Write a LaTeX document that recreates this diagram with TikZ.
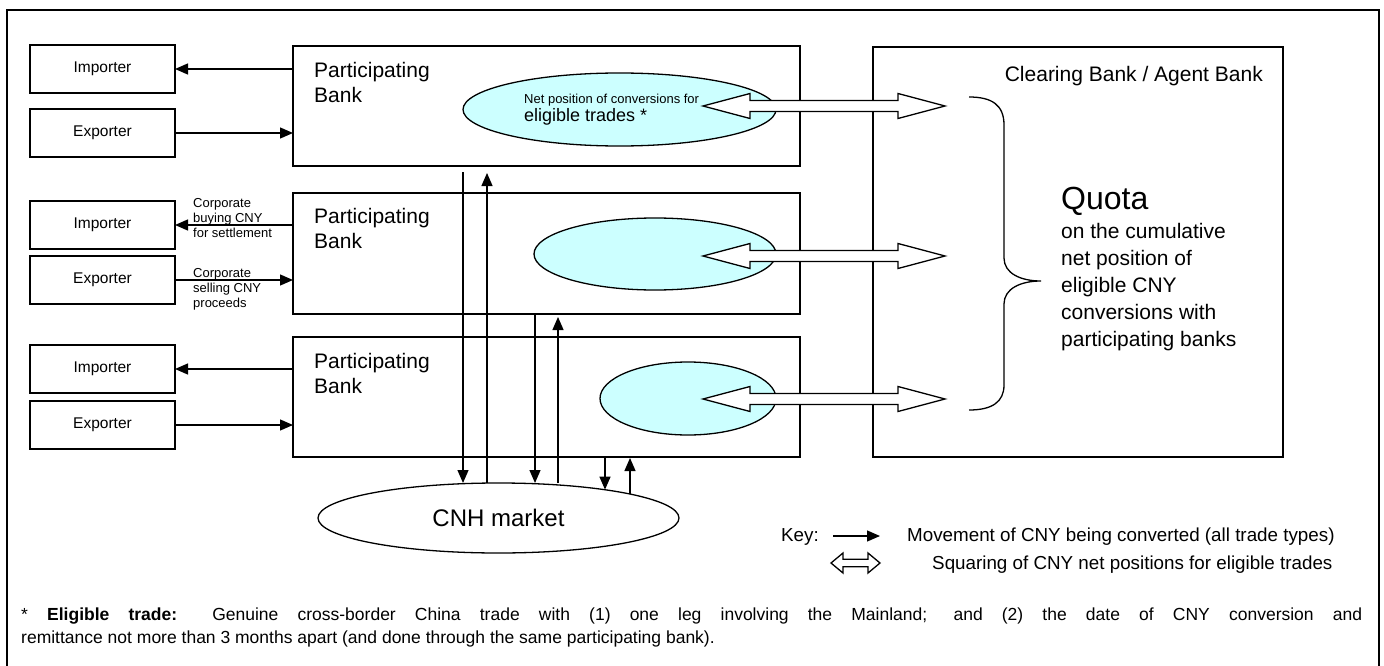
\documentclass[tikz,border=0pt]{standalone}
\usepackage{fontspec}
\setmainfont{Liberation Sans}
\usetikzlibrary{arrows.meta,shapes.geometric,positioning,calc}
\definecolor{netcyan}{RGB}{204,255,255}
% hollow two-headed block arrow: left tip, right tip, head length, head half-width, shaft half-width
\newcommand{\sqarrow}[5]{%
  \draw[sqline] (#1) -- ++(#3,-#4) -- ++(0,{#4-#5}) -- ($(#2)+(-#3,-#5)$) -- ++(0,{#5-#4})
    -- (#2) -- ++(-#3,#4) -- ++(0,{#5-#4}) -- ($(#1)+(#3,#5)$) -- ++(0,{#4-#5}) -- cycle;}

\begin{document}
\begin{tikzpicture}[x=1pt,y=-1pt,
  party/.style={draw, line width=1.3pt, minimum width=145pt, minimum height=48pt, inner sep=0pt, outer sep=0pt, font=\fontsize{15.5}{17}\selectfont},
  bank/.style={draw, line width=1.3pt, minimum width=507pt, minimum height=120pt, inner sep=0pt, outer sep=0pt},
  banklabel/.style={align=left, inner sep=0pt, font=\fontsize{21}{25}\selectfont},
  netpos/.style={ellipse, draw, line width=1.3pt, fill=netcyan, inner sep=0pt, outer sep=0pt},
  flow/.style={-{Triangle[length=13pt,width=11pt]}, line width=1.3pt},
  sqline/.style={fill=white, line width=1.3pt},
  corp/.style={align=left, inner sep=0pt, font=\fontsize{13}{15}\selectfont},
  keytext/.style={inner sep=0pt, font=\fontsize{18.8}{20}\selectfont}]

  \useasboundingbox (0,0) rectangle (1384,666);
  \draw[line width=2pt] (7,10) rectangle (1379,690);

  % importers and exporters
  \node[party] (imp1) at (102.5,69) {Importer};
  \node[party] (exp1) at (102.5,133) {Exporter};
  \node[party] (imp2) at (102.5,225) {Importer};
  \node[party] (exp2) at (102.5,280) {Exporter};
  \node[party] (imp3) at (102.5,369) {Importer};
  \node[party] (exp3) at (102.5,425) {Exporter};

  % participating banks
  \node[bank] (bank1) at (546.5,106) {};
  \node[bank, minimum height=121pt] (bank2) at (546.5,253.5) {};
  \node[bank] (bank3) at (546.5,397) {};
  \node[banklabel, below right=16pt and 21pt of bank1.north west] (bank1txt) {Participating\\Bank};
  \node[banklabel, below right=15pt and 21pt of bank2.north west] (bank2txt) {Participating\\Bank};
  \node[banklabel, below right=16pt and 21pt of bank3.north west] (bank3txt) {Participating\\Bank};

  \draw[flow] (bank1.west |- imp1) -- (imp1);
  \draw[flow] (exp1) -- (bank1.west |- exp1);
  \draw[flow] (bank2.west |- imp2) -- (imp2);
  \draw[flow] (exp2) -- (bank2.west |- exp2);
  \draw[flow] (bank3.west |- imp3) -- (imp3);
  \draw[flow] (exp3) -- (bank3.west |- exp3);

  \node[corp, anchor=west] (buytxt) at (193,218) {Corporate\\buying CNY\\for settlement};
  \node[corp, anchor=west] (selltxt) at (193,289) {Corporate\\selling CNY\\proceeds};

  % net positions
  \node[netpos, minimum width=313pt, minimum height=73pt] (pos1) at (619.5,109.5) {};
  \node[netpos, minimum width=242pt, minimum height=72pt] (pos2) at (655,254) {};
  \node[netpos, minimum width=176pt, minimum height=73pt] (pos3) at (688,398.5) {};
  \node[anchor=base west, inner sep=0pt, font=\fontsize{13}{15}\selectfont] (pos1top) at (524,104) {Net position of conversions for};
  \node[anchor=base west, inner sep=0pt, font=\fontsize{18}{20}\selectfont] (pos1bot) at (524,122) {eligible trades *};

  % clearing bank
  \node[bank, minimum width=410pt, minimum height=410pt] (clear) at (1078,252) {};
  \node[inner sep=0pt, font=\fontsize{21}{24}\selectfont, below left=19pt and 20pt of clear.north east] (cleartxt) {Clearing Bank / Agent Bank};
  \node[anchor=base west, inner sep=0pt, font=\fontsize{32}{32}\selectfont] (quota) at (1061,209) {Quota};
  \node[anchor=north west, align=left, inner sep=0pt, font=\fontsize{21}{27}\selectfont] (quotatxt) at (1061,223)
    {on the cumulative\\net position of\\eligible CNY\\conversions with\\participating banks};
  \draw[line width=1.3pt] (969,97) .. controls (992,97) and (1004,105) .. (1004,125) -- (1004,258)
    .. controls (1004,273) and (1020,281) .. (1041,281) .. controls (1020,281) and (1004,289) .. (1004,304)
    -- (1004,385) .. controls (1004,402) and (992,410) .. (969,410);

  % squaring
  \coordinate (sql1) at (703,106); \coordinate (sqr1) at (945,106);
  \coordinate (sql2) at (703,256); \coordinate (sqr2) at (945,256);
  \coordinate (sql3) at (703,399); \coordinate (sqr3) at (945,399);
  \sqarrow{sql1}{sqr1}{47}{12.5}{5.5}
  \sqarrow{sql2}{sqr2}{47}{12.5}{5.5}
  \sqarrow{sql3}{sqr3}{47}{12.5}{5.5}

  % CNH market
  \node[ellipse, draw, line width=1.3pt, minimum width=361pt, minimum height=70pt, inner sep=0pt, outer sep=0pt, font=\fontsize{24}{26}\selectfont] (cnh) at (498.5,518) {CNH market};
  \coordinate (c1) at (463,0); \coordinate (c2) at (487,0);
  \coordinate (c3) at (535,0); \coordinate (c4) at (558,0);
  \coordinate (c5) at (605,0); \coordinate (c6) at (630,0);
  \draw[flow] ($(bank1.south -| c1)+(0,6)$) -- (c1 |- cnh.north);
  \draw[flow] (c2 |- cnh.north) -- ($(bank1.south -| c2)+(0,7)$);
  \draw[flow] (bank2.south -| c3) -- (c3 |- cnh.north);
  \draw[flow] (c4 |- cnh.north) -- ($(bank2.south -| c4)+(0,3)$);
  \draw[flow] (bank3.south -| c5) -- (c5 |- cnh.15);
  \draw[flow] (c6 |- cnh.10) -- ($(bank3.south -| c6)+(0,1)$);

  % key
  \node[keytext, anchor=base west] (keyword) at (781,541) {Key:};
  \coordinate (keyl) at (833,536); \coordinate (keyr) at (880,536);
  \draw[flow] (keyl) -- (keyr);
  \node[keytext, anchor=base west] (keymove) at (907,541) {Movement of CNY being converted (all trade types)};
  \coordinate (keysl) at (831,563); \coordinate (keysr) at (880,563);
  \sqarrow{keysl}{keysr}{12}{10}{3.7}
  \node[keytext, anchor=base west] (keysq) at (932,569) {Squaring of CNY net positions for eligible trades};

  % footnote
  \node[anchor=north west, text width=1341pt, align=justify, inner sep=0pt, font=\fontsize{17.5}{23}\selectfont] (note) at (21,608)
    {* \textbf{Eligible trade:} Genuine cross-border China trade with (1) one leg involving the Mainland; and (2) the date of CNY conversion and\linebreak remittance not more than 3 months apart (and done through the same participating bank).};
\end{tikzpicture}
\end{document}
